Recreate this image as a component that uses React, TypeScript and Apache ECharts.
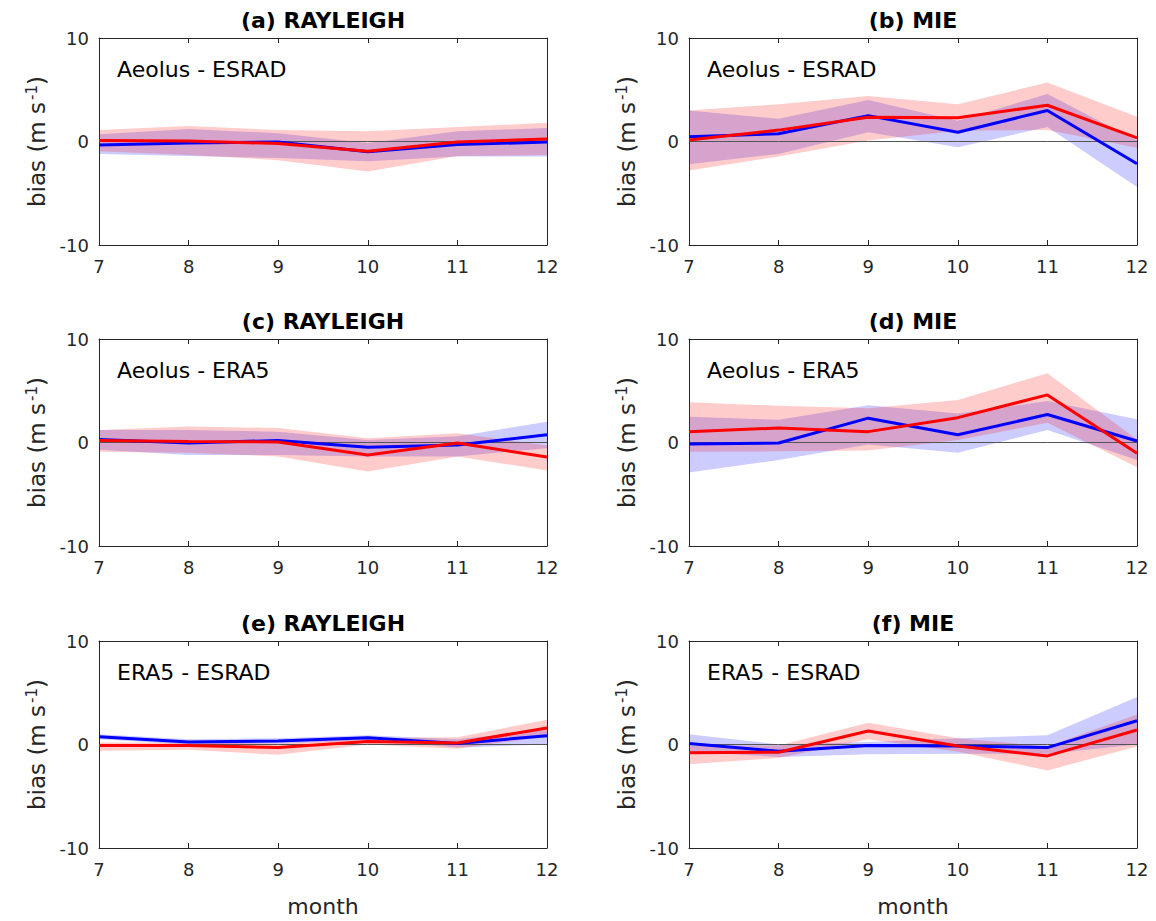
import React, { useEffect, useRef } from "react";
import * as echarts from "echarts";

const months = ["7", "8", "9", "10", "11", "12"];
const yTicks = [-10, 0, 10];

// (a) RAYLEIGH, Aeolus - ESRAD
const aBlue = [-0.35, -0.15, -0.05, -1.0, -0.3, -0.05];
const aBlueLo = [-1.2, -1.4, -1.6, -1.9, -1.45, -1.45];
const aBlueHi = [0.7, 1.2, 0.8, -0.15, 1.0, 1.3];
const aRed = [0.1, 0.05, -0.2, -0.95, -0.05, 0.25];
const aRedLo = [-0.95, -1.3, -1.8, -2.9, -1.4, -1.3];
const aRedHi = [1.1, 1.5, 1.1, 1.0, 1.4, 1.8];

// (b) MIE, Aeolus - ESRAD
const bBlue = [0.45, 0.75, 2.5, 0.9, 3.0, -2.15];
const bBlueLo = [-2.2, -1.2, 0.9, -0.55, 1.4, -4.4];
const bBlueHi = [3.0, 2.2, 4.0, 2.0, 4.6, 0.1];
const bRed = [0.15, 1.1, 2.35, 2.3, 3.5, 0.35];
const bRedLo = [-2.8, -1.45, 0.1, 1.05, 1.1, -0.6];
const bRedHi = [3.0, 3.6, 4.4, 3.6, 5.7, 2.4];

// (c) RAYLEIGH, Aeolus - ERA5
const cBlue = [0.3, -0.05, 0.2, -0.45, -0.25, 0.75];
const cBlueLo = [-0.7, -1.2, -1.2, -1.35, -1.35, -0.55];
const cBlueHi = [1.2, 1.2, 1.05, 0.25, 0.6, 2.0];
const cRed = [0.2, 0.1, 0.05, -1.2, -0.05, -1.4];
const cRedLo = [-0.9, -1.0, -1.35, -2.8, -1.35, -2.7];
const cRedHi = [1.2, 1.55, 1.4, 0.4, 0.9, -0.3];

// (d) MIE, Aeolus - ERA5
const dBlue = [-0.15, -0.05, 2.35, 0.75, 2.7, 0.15];
const dBlueLo = [-2.9, -1.7, -0.2, -1.0, 1.2, -1.7];
const dBlueHi = [2.5, 2.2, 3.6, 2.8, 4.0, 2.25];
const dRed = [1.05, 1.4, 1.05, 2.4, 4.6, -1.05];
const dRedLo = [-0.9, -0.85, -0.77, 0.25, 1.9, -2.4];
const dRedHi = [3.9, 3.55, 3.3, 4.1, 6.7, 0.3];

// (e) RAYLEIGH, ERA5 - ESRAD
const eBlue = [0.75, 0.25, 0.35, 0.65, 0.1, 0.85];
const eBlueLo = [0.5, 0.0, 0.1, 0.4, -0.3, 0.0];
const eBlueHi = [1.0, 0.5, 0.6, 0.9, 0.5, 1.4];
const eRed = [-0.1, -0.1, -0.3, 0.3, 0.15, 1.6];
const eRedLo = [-0.6, -0.5, -1.0, 0.0, -0.4, 0.8];
const eRedHi = [0.2, 0.2, 0.1, 0.6, 0.7, 2.4];

// (f) MIE, ERA5 - ESRAD
const fBlue = [0.1, -0.65, -0.1, -0.15, -0.3, 2.3];
const fBlueLo = [-0.7, -1.2, -0.95, -0.9, -0.9, 0.0];
const fBlueHi = [1.0, 0.0, 0.25, 0.6, 0.9, 4.6];
const fRed = [-0.8, -0.75, 1.3, -0.15, -1.1, 1.4];
const fRedLo = [-1.9, -1.3, 0.5, -0.7, -2.5, -0.2];
const fRedHi = [-0.1, -0.1, 2.1, 0.6, -0.2, 2.9];

const titles = ["(a) RAYLEIGH", "(b) MIE", "(c) RAYLEIGH", "(d) MIE", "(e) RAYLEIGH", "(f) MIE"];
const insets = ["Aeolus - ESRAD", "Aeolus - ESRAD", "Aeolus - ERA5", "Aeolus - ERA5", "ERA5 - ESRAD", "ERA5 - ESRAD"];
const xLabel = "month";

const panels = [
  { blue: aBlue, blueLo: aBlueLo, blueHi: aBlueHi, red: aRed, redLo: aRedLo, redHi: aRedHi },
  { blue: bBlue, blueLo: bBlueLo, blueHi: bBlueHi, red: bRed, redLo: bRedLo, redHi: bRedHi },
  { blue: cBlue, blueLo: cBlueLo, blueHi: cBlueHi, red: cRed, redLo: cRedLo, redHi: cRedHi },
  { blue: dBlue, blueLo: dBlueLo, blueHi: dBlueHi, red: dRed, redLo: dRedLo, redHi: dRedHi },
  { blue: eBlue, blueLo: eBlueLo, blueHi: eBlueHi, red: eRed, redLo: eRedLo, redHi: eRedHi },
  { blue: fBlue, blueLo: fBlueLo, blueHi: fBlueHi, red: fRed, redLo: fRedLo, redHi: fRedHi },
];

const FONT = "'DejaVu Sans', 'Liberation Sans', sans-serif";
const AX = "#262626";
const gridLefts = [99, 689];
const gridTops = [38, 339, 641];
const GW = 448;
const GH = 207;

export default function App() {
  const ref = useRef<HTMLDivElement>(null);
  useEffect(() => {
    document.body.style.margin = "0";
    if (!ref.current) return;
    const chart = echarts.init(ref.current, null, { renderer: "svg" });
    const grids: any[] = [];
    const xAxes: any[] = [];
    const yAxes: any[] = [];
    const series: any[] = [];
    const graphics: any[] = [];

    panels.forEach((p, i) => {
      const col = i % 2;
      const row = Math.floor(i / 2);
      const gl = gridLefts[col];
      const gt = gridTops[row];
      grids.push({ left: gl, top: gt, width: GW, height: GH, containLabel: false });
      const axLine = { show: true, onZero: false, lineStyle: { color: AX, width: 1 } };
      const tick = { show: true, inside: true, length: 5, lineStyle: { color: AX, width: 1 } };
      xAxes.push({
        gridIndex: i, type: "category", data: months, boundaryGap: false, position: "bottom",
        axisLine: axLine, axisTick: { ...tick, interval: 0 },
        axisLabel: { show: true, interval: 0, fontSize: 18, color: AX, margin: 12, fontFamily: FONT },
        splitLine: { show: false },
      });
      xAxes.push({
        gridIndex: i, type: "category", data: months, boundaryGap: false, position: "top",
        axisLine: axLine, axisTick: { ...tick, interval: 0 },
        axisLabel: { show: false }, splitLine: { show: false },
      });
      yAxes.push({
        gridIndex: i, type: "value", min: yTicks[0], max: yTicks[2], interval: 10, position: "left",
        axisLine: axLine, axisTick: tick,
        axisLabel: { fontSize: 18, color: AX, margin: 10, fontFamily: FONT },
        splitLine: { show: false },
      });
      yAxes.push({
        gridIndex: i, type: "value", min: yTicks[0], max: yTicks[2], interval: 10, position: "right",
        axisLine: axLine, axisTick: tick, axisLabel: { show: false }, splitLine: { show: false },
      });
      const xi = 2 * i;
      const yi = 2 * i;
      const base = { type: "line", xAxisIndex: xi, yAxisIndex: yi, symbol: "none", silent: true, animation: false };
      // zero line
      series.push({ ...base, data: months.map(() => 0), lineStyle: { color: "#555555", width: 1 } });
      // blue band
      series.push({ ...base, data: p.blueLo, stack: "b" + i, stackStrategy: "all", lineStyle: { opacity: 0 } });
      series.push({
        ...base, data: p.blueHi.map((h, k) => h - p.blueLo[k]), stack: "b" + i, stackStrategy: "all",
        lineStyle: { opacity: 0 }, areaStyle: { color: "rgb(0,0,255)", opacity: 0.2 },
      });
      // blue line
      series.push({ ...base, data: p.blue, lineStyle: { color: "#0000ff", width: 3 } });
      // red band
      series.push({ ...base, data: p.redLo, stack: "r" + i, stackStrategy: "all", lineStyle: { opacity: 0 } });
      series.push({
        ...base, data: p.redHi.map((h, k) => h - p.redLo[k]), stack: "r" + i, stackStrategy: "all",
        lineStyle: { opacity: 0 }, areaStyle: { color: "rgb(255,0,0)", opacity: 0.2 },
      });
      // red line
      series.push({ ...base, data: p.red, lineStyle: { color: "#ff0000", width: 3 } });

      graphics.push({
        type: "text", x: gl + GW / 2, y: gt - 18,
        style: { text: titles[i], fontSize: 22, fontWeight: "bold", fontFamily: FONT, fill: "#000", align: "center", verticalAlign: "middle" },
      });
      graphics.push({
        type: "text", x: gl + 18, y: gt + 31,
        style: { text: insets[i], fontSize: 22, fontFamily: FONT, fill: "#000", align: "left", verticalAlign: "middle" },
      });
      graphics.push({
        type: "text", x: gl - 62, y: gt + GH / 2, rotation: Math.PI / 2,
        style: {
          text: "bias (m s{sup|-1})", fontSize: 23, fontFamily: FONT, fill: AX, align: "center", verticalAlign: "middle",
          rich: { sup: { fontSize: 15, fontFamily: FONT, fill: AX, verticalAlign: "top", padding: [0, 0, 10, 2] } },
        },
      });
      if (row === 2) {
        graphics.push({
          type: "text", x: gl + GW / 2, y: gt + GH + 58,
          style: { text: xLabel, fontSize: 22, fontFamily: FONT, fill: AX, align: "center", verticalAlign: "middle" },
        });
      }
    });

    chart.setOption({
      animation: false,
      backgroundColor: "#ffffff",
      textStyle: { fontFamily: FONT },
      grid: grids,
      xAxis: xAxes,
      yAxis: yAxes,
      series,
      graphic: graphics,
    });
    return () => chart.dispose();
  }, []);
  return <div ref={ref} style={{ width: 1156, height: 921 }} />;
}
